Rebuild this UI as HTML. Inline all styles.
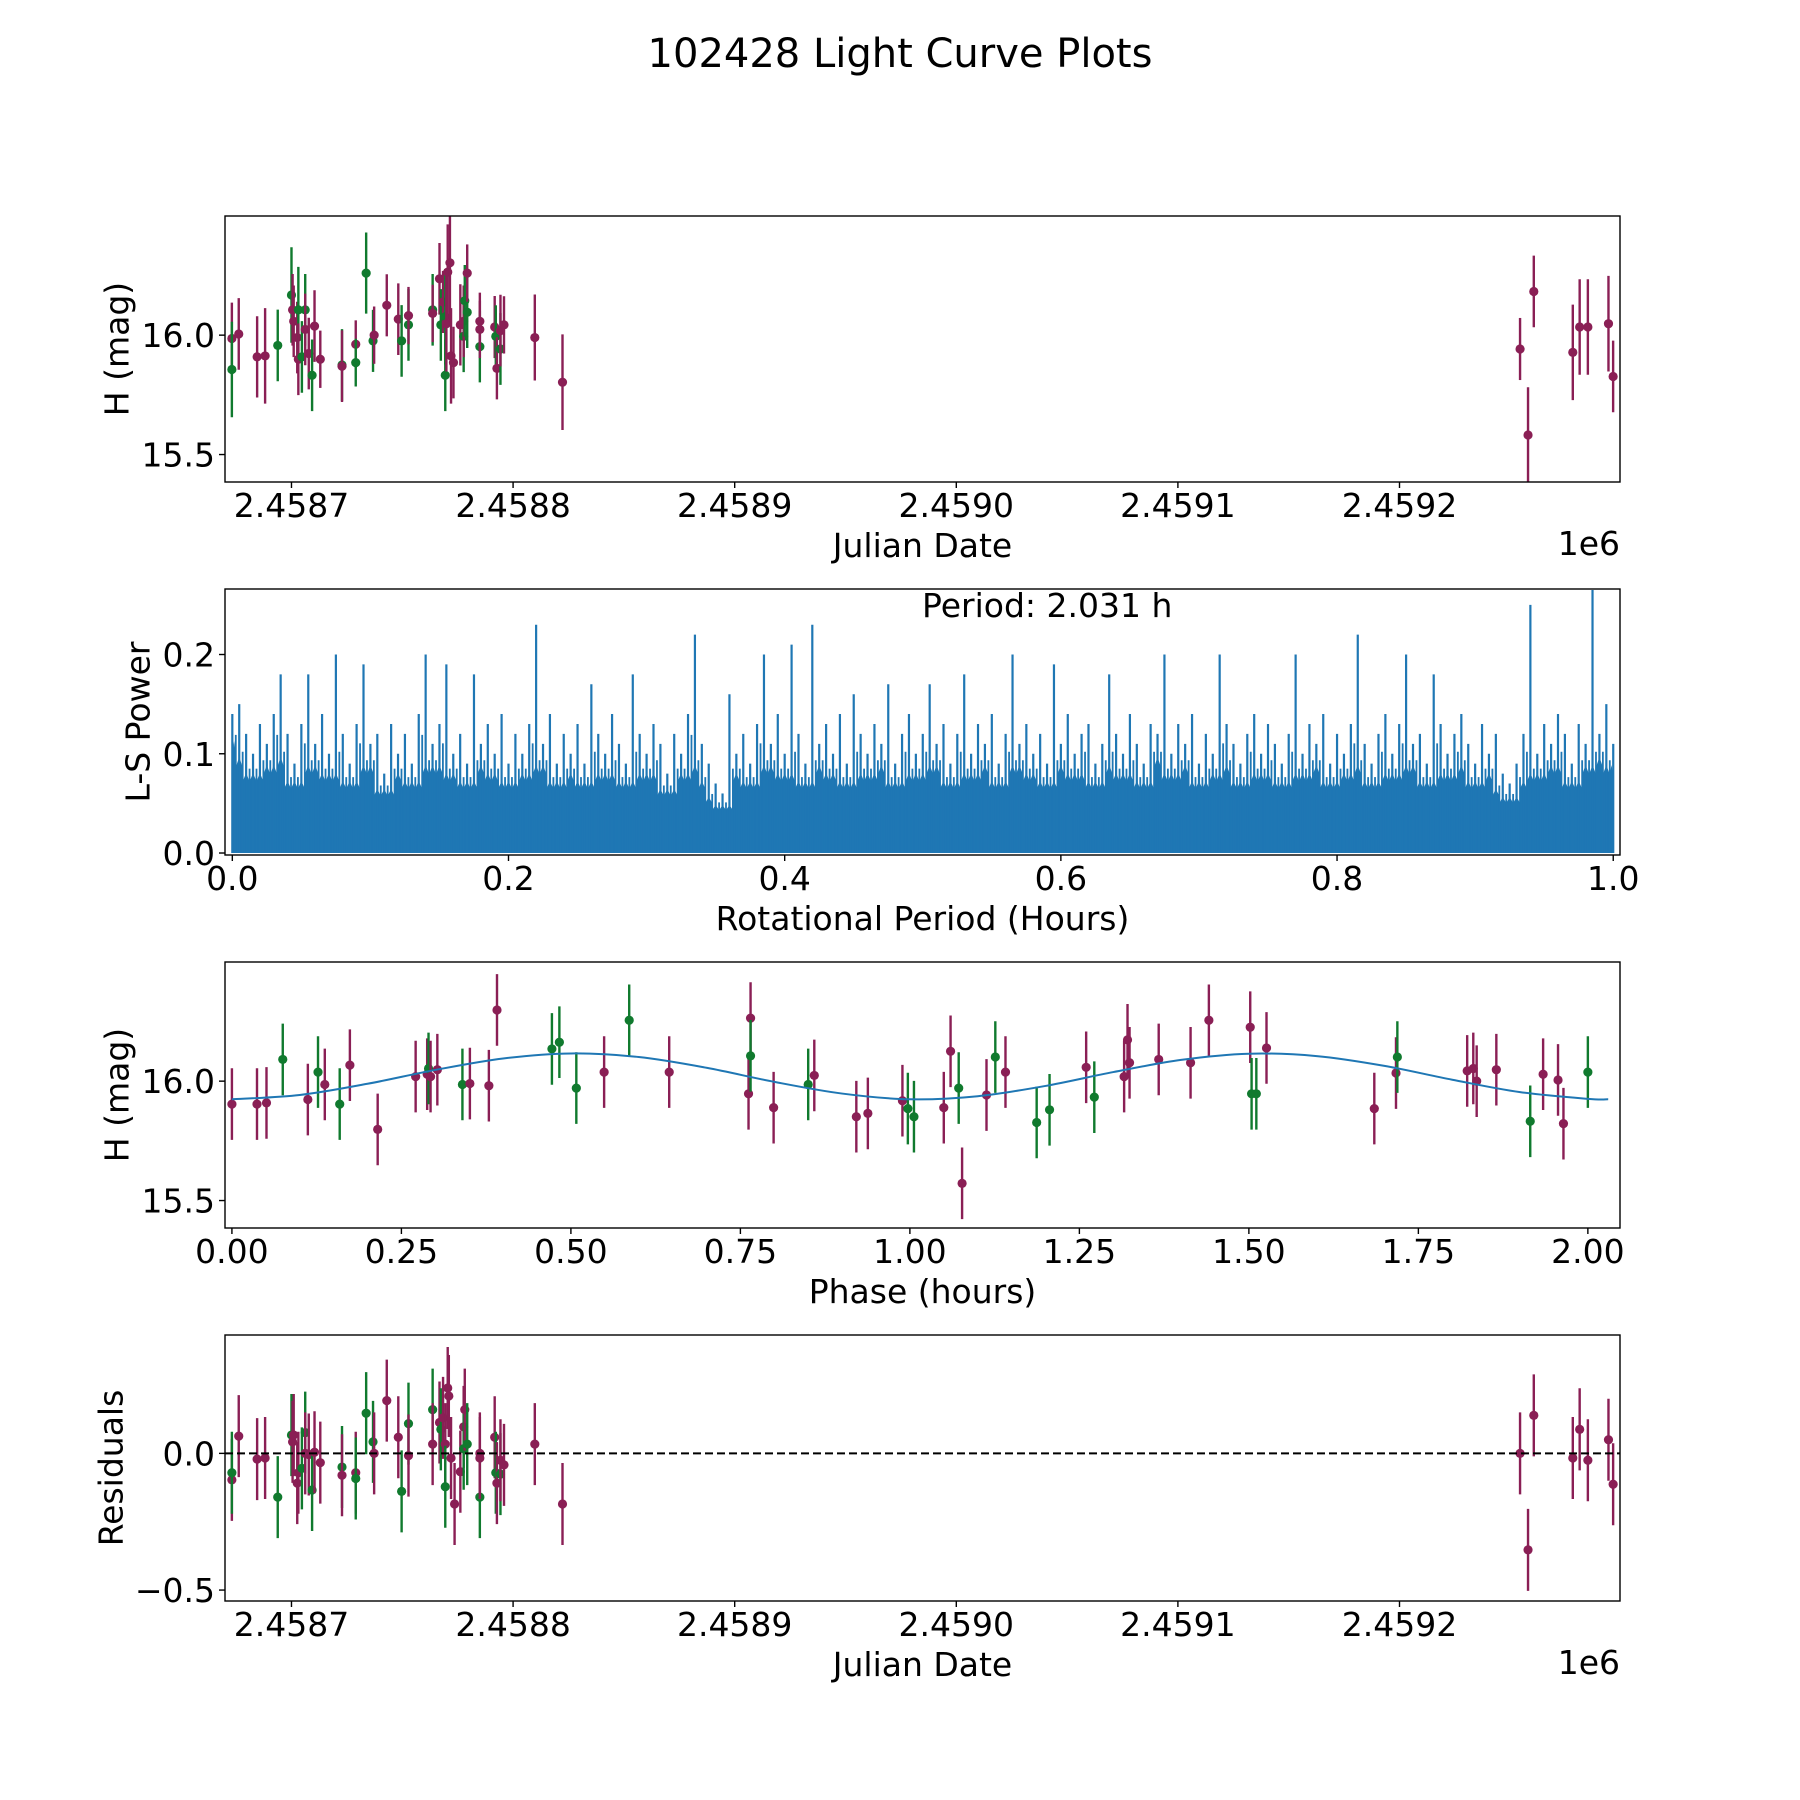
<!DOCTYPE html>
<html><head><meta charset="utf-8">
<style>
html,body{margin:0;padding:0;background:#fff;}
svg{display:block;font-family:"DejaVu Sans","Liberation Sans",sans-serif;}
</style></head>
<body>
<svg id="fig" width="1800" height="1800" viewBox="0 0 1800 1800" xmlns="http://www.w3.org/2000/svg">
<rect width="1800" height="1800" fill="#fff"/>
<text x="900" y="67" font-size="40" text-anchor="middle">102428 Light Curve Plots</text>
</svg>
<script>
// ---------- Panel 1: H mag vs Julian Date (days offset from 2458700) ----------
const lcDays = [-26.9,-26.9,-23.8,-15.5,-11.9,-6.2,0,0.5,1.0,2.6,3.1,3.1,4.7,6.2,6.2,7.8,9.3,10.4,13.0,22.8,22.8,29.0,29.0,33.7,36.8,37.3,43.0,48.2,49.7,52.8,52.8,63.7,63.7,66.8,67.4,68.4,69.4,69.4,69.9,70.5,71.5,72.0,73.1,76.2,77.7,77.7,78.2,79.3,79.3,85.0,85.0,85.0,91.7,92.2,92.7,94.3,94.3,95.9,109.8,122.3,554.4,558.0,560.6,578.2,581.3,585.0,594.3,596.4];
const lcMag = [15.986,15.856,16.005,15.909,15.913,15.957,16.168,16.106,16.058,15.990,16.106,15.899,15.909,16.106,16.024,15.923,15.832,16.038,15.899,15.875,15.870,15.962,15.885,16.260,15.976,16.000,16.125,16.067,15.976,16.043,16.082,16.106,16.091,16.236,16.043,16.139,16.077,15.832,16.048,16.264,16.303,15.913,15.885,16.043,15.995,16.058,16.144,16.096,16.260,15.952,16.024,16.058,16.034,15.995,15.861,15.942,16.019,16.043,15.990,15.803,15.942,15.582,16.183,15.928,16.034,16.034,16.048,15.827];
const lcFilter = ['m','g','m','m','m','g','g','m','m','m','g','m','g','g','m','m','g','m','m','g','m','m','g','g','g','m','m','m','g','g','m','g','m','m','g','m','g','g','m','m','m','m','m','m','g','m','g','g','m','g','m','m','m','g','m','g','m','m','m','m','m','m','m','m','m','m','m','m'];
const lcErr = [0.15,0.2,0.15,0.17,0.2,0.15,0.2,0.15,0.15,0.15,0.18,0.15,0.15,0.15,0.15,0.15,0.15,0.15,0.12,0.15,0.15,0.1,0.1,0.17,0.13,0.12,0.13,0.15,0.15,0.15,0.12,0.15,0.12,0.15,0.15,0.13,0.2,0.15,0.2,0.2,0.25,0.2,0.15,0.17,0.15,0.15,0.15,0.15,0.12,0.15,0.12,0.12,0.13,0.13,0.13,0.15,0.15,0.12,0.18,0.2,0.13,0.2,0.15,0.2,0.2,0.2,0.2,0.15];

// ---------- Panel 2: Lomb-Scargle periodogram ----------
const lsStart = 0.0, lsStep = 0.005;
const lsPower = [.14,.15,.12,.10,.13,.11,.14,.18,.12,.09,.13,.18,.11,.14,.10,.20,.12,.09,.13,.19,.11,.12,.08,.13,.10,.12,.09,.14,.20,.11,.13,.19,.10,.12,.09,.18,.11,.13,.10,.14,.09,.12,.10,.13,.23,.11,.14,.09,.12,.10,.13,.09,.17,.12,.10,.14,.11,.09,.18,.12,.10,.13,.11,.08,.12,.10,.14,.22,.11,.09,.07,.06,.16,.10,.12,.09,.13,.20,.11,.14,.10,.21,.12,.09,.23,.11,.13,.10,.14,.09,.16,.12,.10,.13,.11,.17,.09,.12,.14,.10,.12,.17,.11,.13,.09,.12,.18,.10,.13,.11,.14,.09,.12,.20,.11,.13,.10,.12,.09,.19,.11,.14,.10,.12,.13,.09,.11,.18,.12,.10,.14,.11,.09,.13,.12,.20,.10,.13,.11,.14,.09,.12,.10,.20,.13,.11,.09,.12,.14,.10,.13,.11,.09,.12,.20,.10,.13,.11,.14,.09,.12,.10,.13,.22,.11,.09,.12,.14,.10,.13,.20,.11,.12,.09,.18,.13,.10,.12,.14,.11,.09,.13,.10,.12,.08,.07,.09,.12,.25,.10,.13,.11,.14,.12,.09,.13,.11,.265,.12,.15,.11];
const lsTicks = [0.0,0.2,0.4,0.6,0.8,1.0];
const lsTickLabels = ['0.0','0.2','0.4','0.6','0.8','1.0'];
const lsYTicks = [0.0,0.1,0.2];

// ---------- Panel 3: phased light curve ----------
const phHours = [0.000,0.037,0.051,0.075,0.112,0.127,0.137,0.159,0.174,0.215,0.271,0.288,0.290,0.293,0.303,0.340,0.351,0.379,0.391,0.472,0.483,0.508,0.549,0.586,0.645,0.762,0.765,0.765,0.799,0.850,0.859,0.921,0.938,0.989,0.997,1.006,1.050,1.060,1.072,1.077,1.113,1.126,1.141,1.187,1.206,1.260,1.272,1.316,1.321,1.324,1.367,1.414,1.441,1.502,1.504,1.511,1.526,1.685,1.717,1.719,1.822,1.831,1.836,1.865,1.915,1.934,1.956,1.964,2.000];
const phMag = [15.904,15.904,15.909,16.091,15.923,16.038,15.986,15.904,16.067,15.798,16.019,16.029,16.053,16.019,16.048,15.986,15.990,15.981,16.298,16.135,16.163,15.971,16.038,16.255,16.038,15.947,16.264,16.106,15.889,15.986,16.024,15.851,15.865,15.918,15.885,15.851,15.889,16.125,15.971,15.572,15.942,16.101,16.038,15.827,15.880,16.058,15.933,16.019,16.173,16.077,16.091,16.077,16.255,16.226,15.947,15.947,16.139,15.885,16.034,16.101,16.043,16.053,16.000,16.048,15.832,16.029,16.005,15.822,16.038];
const phFilter = ['m','m','m','g','m','g','m','g','m','m','m','m','g','m','m','g','m','m','m','g','g','g','m','g','m','m','m','g','m','g','m','m','m','m','g','g','m','m','g','m','m','g','m','g','g','m','g','m','m','m','m','m','m','m','g','g','m','m','m','g','m','m','m','m','g','m','m','m','g'];
const phErr = 0.15;
const fitPhase = [0,0.1,0.2,0.3,0.4,0.5,0.6,0.7,0.8,0.9,1.0,1.1,1.2,1.3,1.4,1.5,1.6,1.7,1.8,1.9,2.0,2.03];
const fitMag = [15.924,15.942,15.989,16.047,16.095,16.116,16.101,16.056,15.997,15.948,15.924,15.937,15.980,16.038,16.089,16.115,16.105,16.064,16.006,15.954,15.926,15.924];
const phTicks = [0,0.25,0.5,0.75,1.0,1.25,1.5,1.75,2.0];
const phTickLabels = ['0.00','0.25','0.50','0.75','1.00','1.25','1.50','1.75','2.00'];

// ---------- Panel 4: residuals ----------
const resDays = [-26.9,-26.9,-23.8,-15.5,-11.9,-6.2,0,0.5,1.0,2.6,3.1,4.7,6.2,6.2,7.8,9.3,10.4,13.0,22.8,22.8,29.0,29.0,33.7,36.8,37.3,43.0,48.2,49.7,52.8,52.8,63.7,63.7,66.8,67.4,68.4,69.4,69.4,70.5,71.0,72.0,73.6,76.2,77.7,77.7,78.2,79.3,85.0,85.0,85.0,91.7,92.2,92.7,94.3,94.3,95.9,109.8,122.3,554.4,558.0,560.6,578.2,581.3,585.0,594.3,596.4];
const resVal = [-0.097,-0.071,0.063,-0.021,-0.017,-0.160,0.067,0.042,0.067,-0.109,-0.071,-0.055,0.076,0,-0.004,-0.134,0.004,-0.034,-0.050,-0.080,-0.071,-0.092,0.147,0.042,0,0.193,0.059,-0.139,0.109,-0.008,0.160,0.034,0.113,0.088,0.130,0.034,-0.122,0.239,0.210,-0.017,-0.185,-0.067,0.097,0.017,0.160,0.034,-0.160,0,-0.017,0.059,-0.071,-0.109,-0.076,-0.025,-0.042,0.034,-0.185,0,-0.353,0.139,-0.017,0.088,-0.025,0.050,-0.113];
const resFilter = ['m','g','m','m','m','g','g','m','m','m','m','g','g','m','m','g','m','m','g','m','m','g','g','g','m','m','m','g','g','m','g','m','m','g','m','m','g','m','m','m','m','m','m','g','m','g','g','m','m','m','g','m','g','m','m','m','m','m','m','m','m','m','m','m','m'];
const resErr = 0.15;

const jdTicks = [0,100,200,300,400,500];
const jdTickLabels = ['2.4587','2.4588','2.4589','2.4590','2.4591','2.4592'];
const magTicks = [15.5,16.0];
const magTickLabels = ['15.5','16.0'];
const resTicks = [-0.5,0.0];
const resTickLabels = ['\u22120.5','0.0'];

const NS = 'http://www.w3.org/2000/svg';
const svg = document.getElementById('fig');
const COL = {m:'#8a1f55', g:'#107a2e'};
const AX_L = 225, AX_R = 1620, AX_H = 266;
function mk(tag, attrs, parent){
  const e = document.createElementNS(NS, tag);
  for (const k in attrs) e.setAttribute(k, attrs[k]);
  (parent||svg).appendChild(e);
  return e;
}
function scale(d0,d1,r0,r1){ return v => r0 + (v-d0)/(d1-d0)*(r1-r0); }

function axesFrame(top, name, xs, ys, xticks, xlabels, yticks, ylabels, xlabel, ylabel, ylabX, extra){
  const g = mk('g', {});
  
  
  const bot = top + AX_H;
  xticks.forEach((t,i)=>{
    const x = xs(t);
    const tk = mk('line', {x1:x, x2:x, y1:bot, y2:bot+6, stroke:'#000', 'stroke-width':1.4}, g);
    
    
    const tx = mk('text', {x:x, y:bot+35, 'font-size':33, 'text-anchor':'middle'}, g);
    
    
    tx.textContent = xlabels[i];
  });
  yticks.forEach((t,i)=>{
    const y = ys(t);
    const tk = mk('line', {x1:AX_L-6, x2:AX_L, y1:y, y2:y, stroke:'#000', 'stroke-width':1.4}, g);
    
    
    const tx = mk('text', {x:AX_L-10, y:y+12, 'font-size':33, 'text-anchor':'end'}, g);
    
    
    tx.textContent = ylabels[i];
  });
  const xl = mk('text', {x:(AX_L+AX_R)/2, y:bot+75, 'font-size':33, 'text-anchor':'middle'}, g);
  
  
  xl.textContent = xlabel;
  const cy = top + AX_H/2;
  const yl = mk('text', {x:ylabX, y:cy, 'font-size':33, 'text-anchor':'middle', 'dominant-baseline':'central', transform:'rotate(-90 '+ylabX+' '+cy+')'}, g);
  
  
  yl.textContent = ylabel;
  if (extra) {
    const ex = mk('text', {x:AX_R, y:bot+73, 'font-size':33, 'text-anchor':'end'}, g);
    
    
    ex.textContent = extra;
  }
}
function border(top, name){
  const r = mk('rect', {x:AX_L, y:top, width:AX_R-AX_L, height:AX_H, fill:'none', stroke:'#000', 'stroke-width':1.4});
  
  
}
function clip(id, top){
  const c = mk('clipPath', {id:id});
  mk('rect', {x:AX_L, y:top, width:AX_R-AX_L, height:AX_H}, c);
}
function errPoints(name, clipId, xs, ys, X, Y, F, E){
  const g = mk('g', {'clip-path':'url(#'+clipId+')'});
  
  
  X.forEach((xv,i)=>{
    const e = Array.isArray(E) ? E[i] : E;
    const x = xs(xv), c = COL[F[i]];
    const ln = mk('line', {x1:x, x2:x, y1:ys(Y[i]-e), y2:ys(Y[i]+e), stroke:c, 'stroke-width':2.4}, g);
    
    
    const dt = mk('circle', {cx:x, cy:ys(Y[i]), r:4.6, fill:c}, g);
    
    
  });
}

// ---- Panel 1 ----
const T1 = 216;
const xJD = scale(-30, 599.5, AX_L, AX_R);
const yMag1 = scale(15.385, 16.499, T1+AX_H, T1);
clip('c1', T1);
errPoints('lightcurve', 'c1', xJD, yMag1, lcDays, lcMag, lcFilter, lcErr);
border(T1, 'lightcurve');
axesFrame(T1, 'lightcurve', xJD, yMag1, jdTicks, jdTickLabels, magTicks, magTickLabels, 'Julian Date', 'H (mag)', 117, '1e6');

// ---- Panel 2 ----
const T2 = 589;
const xLS = scale(-0.0053, 1.0049, AX_L, AX_R);
const yLS = scale(-0.002, 0.266, T2+AX_H, T2);
clip('c2', T2);
(function(){
  const g = mk('g', {'clip-path':'url(#c2)'});
  
  
  // solid lower body: follows the local minimum of neighbouring bins
  let d = 'M' + xLS(lsStart) + ' ' + yLS(0);
  lsPower.forEach((p,i)=>{
    const lo = Math.min(p, lsPower[Math.max(0,i-1)], lsPower[Math.min(lsPower.length-1,i+1)]) * 0.72;
    const x0 = xLS(Math.max(0, lsStart + (i-0.5)*lsStep));
    const x1 = xLS(Math.min(1.0, lsStart + (i+0.5)*lsStep));
    d += ' L' + x0 + ' ' + yLS(lo) + ' L' + (x0+x1)/2 + ' ' + yLS(lo*1.12) + ' L' + x1 + ' ' + yLS(lo);
  });
  d += ' L' + xLS(1.0) + ' ' + yLS(0) + ' Z';
  const area = mk('path', {d:d, fill:'#1f77b4', stroke:'none'}, g);
  
  
  // spikes
  lsPower.forEach((p,i)=>{
    const xc = xLS(lsStart + i*lsStep);
    const ln = mk('line', {x1:xc, x2:xc, y1:yLS(0), y2:yLS(p), stroke:'#1f77b4', 'stroke-width':2.2}, g);
    
    
    if (i < lsPower.length-1) {
      const q = Math.min(p, lsPower[i+1]);
      const xm = xLS(lsStart + (i+0.5)*lsStep);
      const l2 = mk('line', {x1:xm, x2:xm, y1:yLS(0), y2:yLS(q*0.85), stroke:'#1f77b4', 'stroke-width':1.8}, g);
      
      
    }
  });
})();
border(T2, 'periodogram');
axesFrame(T2, 'periodogram', xLS, yLS, lsTicks, lsTickLabels, lsYTicks, ['0.0','0.1','0.2'], 'Rotational Period (Hours)', 'L-S Power', 138, null);
const pt = mk('text', {x:922, y:617, 'font-size':33});


pt.textContent = 'Period: 2.031 h';

// ---- Panel 3 ----
const T3 = 962;
const xPh = scale(-0.0102, 2.0474, AX_L, AX_R);
const yMag3 = scale(15.385, 16.499, T3+AX_H, T3);
clip('c3', T3);
errPoints('phased', 'c3', xPh, yMag3, phHours, phMag, phFilter, phErr);
(function(){
  const P = fitPhase.map((p,i)=>[xPh(p), yMag3(fitMag[i])]);
  let d = 'M' + P[0][0] + ' ' + P[0][1];
  for (let i=0;i<P.length-1;i++){
    const p0 = P[Math.max(0,i-1)], p1 = P[i], p2 = P[i+1], p3 = P[Math.min(P.length-1,i+2)];
    const c1x = p1[0] + (p2[0]-p0[0])/6, c1y = p1[1] + (p2[1]-p0[1])/6;
    const c2x = p2[0] - (p3[0]-p1[0])/6, c2y = p2[1] - (p3[1]-p1[1])/6;
    d += ' C' + c1x + ' ' + c1y + ' ' + c2x + ' ' + c2y + ' ' + p2[0] + ' ' + p2[1];
  }
  const fl = mk('path', {d:d, fill:'none', stroke:'#1f77b4', 'stroke-width':2, 'clip-path':'url(#c3)'});
  
  
})();
border(T3, 'phased');
axesFrame(T3, 'phased', xPh, yMag3, phTicks, phTickLabels, magTicks, magTickLabels, 'Phase (hours)', 'H (mag)', 117, null);

// ---- Panel 4 ----
const T4 = 1335;
const yRes = scale(-0.540, 0.433, T4+AX_H, T4);
clip('c4', T4);
errPoints('residuals', 'c4', xJD, yRes, resDays, resVal, resFilter, resErr);
const zl = mk('line', {x1:AX_L, x2:AX_R, y1:yRes(0), y2:yRes(0), stroke:'#000', 'stroke-width':2, 'stroke-dasharray':'8 4'});


border(T4, 'residuals');
axesFrame(T4, 'residuals', xJD, yRes, jdTicks, jdTickLabels, resTicks, resTickLabels, 'Julian Date', 'Residuals', 111, '1e6');
</script>
</body></html>
